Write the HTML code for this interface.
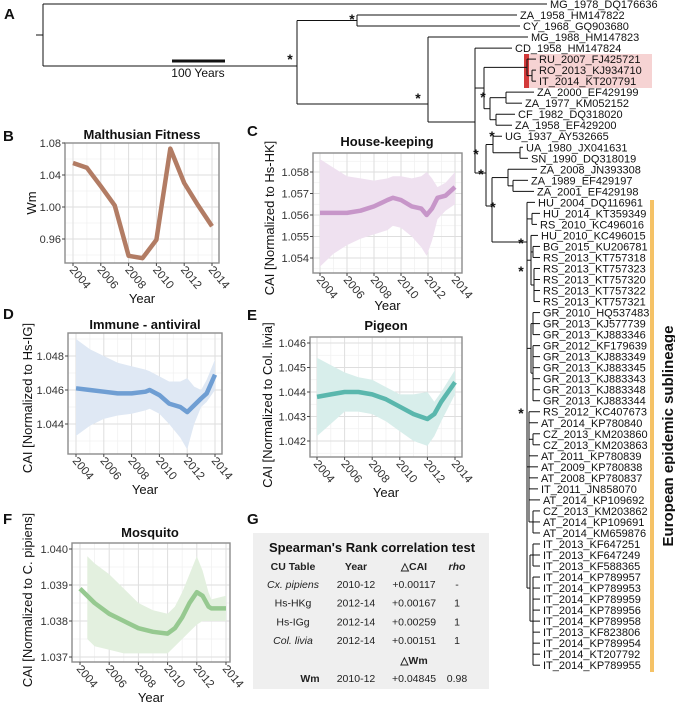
<!DOCTYPE html>
<html><head><meta charset="utf-8">
<style>
html,body{margin:0;padding:0;background:#fff}
svg{display:block;font-family:"Liberation Sans",Arial,sans-serif}
</style></head>
<body>
<svg id="fig" width="675" height="707" viewBox="0 0 675 707" xmlns="http://www.w3.org/2000/svg">
</svg>
<script>
// ---------- DATA ----------
const years = [2004,2005,2006,2007,2008,2009,2010,2011,2012,2013,2014];
const wmValues = [1.055,1.049,1.026,1.002,0.939,0.936,0.959,1.073,1.030,1.002,0.976];
const wmTicks = [0.96,1.00,1.04,1.08];

const hkYears = [2004,2005,2006,2007,2008,2009,2009.4,2010,2010.8,2011.5,2011.9,2012.3,2012.7,2013.3,2014];
const hkFit   = [1.0561,1.0561,1.0561,1.0562,1.0564,1.0567,1.0568,1.0567,1.0564,1.0563,1.0560,1.0563,1.0568,1.0569,1.0573];
const hkUpper = [1.0586,1.0582,1.0578,1.0577,1.0576,1.0577,1.0578,1.0578,1.0577,1.0578,1.0580,1.0577,1.0573,1.0575,1.0580];
const hkLower = [1.0536,1.0542,1.0546,1.0549,1.0551,1.0553,1.0555,1.0554,1.0550,1.0545,1.0541,1.0548,1.0558,1.0562,1.0565];
const hkTicks = [1.054,1.055,1.056,1.057,1.058];

const igYears = [2004,2005,2006,2007,2008,2009,2009.3,2010,2010.7,2011.5,2012,2012.5,2013,2013.4,2014];
const igFit   = [1.0461,1.0460,1.0459,1.0458,1.0458,1.0459,1.0460,1.0457,1.0452,1.0450,1.0447,1.0451,1.0455,1.0458,1.0469];
const igUpper = [1.0490,1.0484,1.0480,1.0476,1.0474,1.0472,1.0471,1.0468,1.0465,1.0465,1.0467,1.0462,1.0460,1.0466,1.0478];
const igLower = [1.0433,1.0439,1.0443,1.0445,1.0446,1.0448,1.0449,1.0446,1.0440,1.0432,1.0425,1.0440,1.0450,1.0453,1.0460];
const igTicks = [1.044,1.046,1.048];

const cliviaYears = [2004,2005,2006,2007,2008,2009,2010,2011,2012,2012.5,2013,2014];
const cliviaFit   = [1.0438,1.0439,1.0440,1.0440,1.0439,1.0437,1.0434,1.0431,1.0429,1.0431,1.0436,1.0444];
const cliviaUpper = [1.0454,1.0451,1.0448,1.0446,1.0445,1.0442,1.0439,1.0439,1.0440,1.0436,1.0440,1.0449];
const cliviaLower = [1.0422,1.0427,1.0432,1.0432,1.0431,1.0428,1.0424,1.0420,1.0418,1.0422,1.0428,1.0439];
const cliviaTicks = [1.042,1.043,1.044,1.045,1.046];

const cxYears = [2004,2005,2006,2007,2008,2009,2010,2010.5,2011,2011.5,2012,2012.4,2012.8,2013,2014];
const cxFit   = [1.0389,1.0385,1.0382,1.0380,1.0378,1.0377,1.03765,1.0378,1.0381,1.0385,1.0388,1.0387,1.0384,1.03835,1.03835];
const cxBandYears = [2004.5,2005,2006,2007,2008,2009,2010,2010.5,2011,2011.5,2012,2012.4,2012.8,2013,2014];
const cxUpper = [1.0398,1.0396,1.0393,1.0389,1.0385,1.0383,1.0382,1.0384,1.0388,1.0393,1.0398,1.0394,1.0388,1.0386,1.0387];
const cxLower = [1.0375,1.0373,1.0372,1.0371,1.0371,1.0371,1.0371,1.0373,1.0375,1.0377,1.0379,1.0380,1.0380,1.0380,1.0380];
const cxTicks = [1.037,1.038,1.039,1.040];

const xTicks = [2004,2006,2008,2010,2012,2014];

const leafNames = ["MG_1978_DQ176636","ZA_1958_HM147822","CY_1968_GQ903680","MG_1988_HM147823","CD_1958_HM147824",
"RU_2007_FJ425721","RO_2013_KJ934710","IT_2014_KT207791","ZA_2000_EF429199","ZA_1977_KM052152","CF_1982_DQ318020",
"ZA_1958_EF429200","UG_1937_AY532665","UA_1980_JX041631","SN_1990_DQ318019","ZA_2008_JN393308","ZA_1989_EF429197",
"ZA_2001_EF429198","HU_2004_DQ116961","HU_2014_KT359349","RS_2010_KC496016","HU_2010_KC496015","BG_2015_KU206781",
"RS_2013_KT757318","RS_2013_KT757323","RS_2013_KT757320","RS_2013_KT757322","RS_2013_KT757321","GR_2010_HQ537483",
"GR_2013_KJ577739","GR_2013_KJ883346","GR_2012_KF179639","GR_2013_KJ883349","GR_2013_KJ883345","GR_2013_KJ883343",
"GR_2013_KJ883348","GR_2013_KJ883344","RS_2012_KC407673","AT_2014_KP780840","CZ_2013_KM203860","CZ_2013_KM203863",
"AT_2011_KP780839","AT_2009_KP780838","AT_2008_KP780837","IT_2011_JN858070","AT_2014_KP109692","CZ_2013_KM203862",
"AT_2014_KP109691","AT_2014_KM659876","IT_2013_KF647251","IT_2013_KF647249","IT_2013_KF588365","IT_2014_KP789957",
"IT_2014_KP789953","IT_2014_KP789959","IT_2014_KP789956","IT_2014_KP789958","IT_2013_KF823806","IT_2014_KP789954",
"IT_2014_KT207792","IT_2014_KP789955"];
const leafLabelX = [550,520,523,531,515,539,539,539,537,525,518,515,505,526,531,540,531,537,538,543,540,541,543,
543,543,543,543,543,543,543,543,543,543,543,543,543,543,543,541,543,543,541,541,541,541,543,543,543,543,
543,543,543,543,543,543,543,543,543,543,543,543];

// ---------- HELPERS ----------
const NS = "http://www.w3.org/2000/svg";
const svg = document.getElementById('fig');
function mk(tag, attrs, parent){
  const e = document.createElementNS(NS, tag);
  for (const k in attrs) e.setAttribute(k, attrs[k]);
  (parent||svg).appendChild(e);
  return e;
}
function txt(str, attrs, parent){
  const e = mk('text', attrs, parent);
  e.textContent = str;
  return e;
}

// ---------- PANEL LETTERS ----------
[["A",4,19],["B",3,141],["C",247,136],["D",3,319],["E",247,320],["F",3,524],["G",247,524]].forEach(p=>{
  const t = txt(p[0], {x:p[1], y:p[2], 'font-size':15, 'font-weight':'bold', fill:'#111'});
  
  
});

// ---------- CHART PANELS ----------
function panel(cfg){
  const g = mk('g', {});
  
  
  const X = v => cfg.px0 + (v - 2004) * (cfg.px1 - cfg.px0) / 10;
  const Y = v => cfg.pyA + (v - cfg.vA) * (cfg.pyB - cfg.pyA) / (cfg.vB - cfg.vA);
  const L=cfg.left, R=cfg.right, T=cfg.top, B=cfg.bottom;
  const clipId = 'clip-' + cfg.name;
  const cp = mk('clipPath', {id: clipId}, g);
  mk('rect', {x:L, y:T, width:R-L, height:B-T}, cp);
  for (let yr=2005; yr<=2013; yr+=2) mk('line',{x1:X(yr),x2:X(yr),y1:T,y2:B,stroke:'#f1f1f1','stroke-width':0.8},g);
  for (let i=0;i<cfg.ticks.length-1;i++){
    const m=(cfg.ticks[i]+cfg.ticks[i+1])/2;
    mk('line',{x1:L,x2:R,y1:Y(m),y2:Y(m),stroke:'#f1f1f1','stroke-width':0.8},g);
  }
  const mLo = cfg.ticks[0]-(cfg.ticks[1]-cfg.ticks[0])/2, mHi = cfg.ticks[cfg.ticks.length-1]+(cfg.ticks[1]-cfg.ticks[0])/2;
  [mLo,mHi].forEach(m=>{ if(Y(m)>T&&Y(m)<B) mk('line',{x1:L,x2:R,y1:Y(m),y2:Y(m),stroke:'#f1f1f1','stroke-width':0.8},g);});
  xTicks.forEach(yr=>mk('line',{x1:X(yr),x2:X(yr),y1:T,y2:B,stroke:'#dedede','stroke-width':1},g));
  cfg.ticks.forEach(v=>mk('line',{x1:L,x2:R,y1:Y(v),y2:Y(v),stroke:'#dedede','stroke-width':1},g));
  if (cfg.upper){
    const by = cfg.bandYears || cfg.xs;
    let d = '';
    by.forEach((yr,i)=>{ d += (i?'L':'M') + X(yr).toFixed(1) + ',' + Y(cfg.upper[i]).toFixed(1); });
    for (let i=by.length-1;i>=0;i--) d += 'L' + X(by[i]).toFixed(1) + ',' + Y(cfg.lower[i]).toFixed(1);
    const band = mk('path',{d:d+'Z', fill:cfg.band, stroke:'none','clip-path':'url(#'+clipId+')'},g);
    
    
  }
  const pts = cfg.xs.map((yr,i)=>X(yr).toFixed(1)+','+Y(cfg.ys[i]).toFixed(1)).join(' ');
  const line = mk('polyline',{points:pts, fill:'none', stroke:cfg.color,'stroke-width':4.5,'stroke-linejoin':'round','stroke-linecap':'butt','clip-path':'url(#'+clipId+')'},g);
  
  
  mk('rect',{x:L,y:T,width:R-L,height:B-T,fill:'none',stroke:'#8c8c8c','stroke-width':1.4},g);
  cfg.ticks.forEach(v=>{
    mk('line',{x1:L-3,x2:L,y1:Y(v),y2:Y(v),stroke:'#444','stroke-width':1},g);
    const t = txt(v.toFixed(cfg.dec),{x:L-4,y:Y(v)+4,'font-size':11,'text-anchor':'end',fill:'#333'},g);
    
    
  });
  xTicks.forEach(yr=>{
    mk('line',{x1:X(yr),x2:X(yr),y1:B,y2:B+3,stroke:'#444','stroke-width':1},g);
    const tx = X(yr)-4, ty = B+7;
    const t = txt(String(yr),{x:tx,y:ty,'font-size':11.5,fill:'#333',transform:'rotate(50 '+tx+' '+ty+')'},g);
    
    
  });
  const tt = txt(cfg.title,{x:cfg.titleX,y:cfg.titleY,'font-size':13,'font-weight':'bold','text-anchor':'middle',fill:'#111'},g);
  
  
  const xt = txt('Year',{x:(L+R)/2,y:cfg.xTitleY,'font-size':13,'text-anchor':'middle',fill:'#111'},g);
  
  
  const yt = txt(cfg.ytitle,{x:cfg.yTitleX,y:cfg.yTitleY,'font-size':13,'text-anchor':'middle',fill:'#111',transform:'rotate(-90 '+cfg.yTitleX+' '+cfg.yTitleY+')'},g);
  
  
}

panel({name:'malthusian-fitness-chart',left:65,right:219,top:143,bottom:263,px0:73,px1:212,vA:1.08,pyA:143,vB:0.96,pyB:239,
  ticks:wmTicks,dec:2,xs:years,ys:wmValues,color:'#b27c64',title:'Malthusian Fitness',titleX:142,titleY:139,
  xTitleY:303,ytitle:'Wm',yTitleX:36,yTitleY:203});
panel({name:'house-keeping-chart',left:313,right:462,top:153,bottom:273,px0:320,px1:455,vA:1.058,pyA:172,vB:1.054,pyB:258,
  ticks:hkTicks,dec:3,xs:hkYears,ys:hkFit,upper:hkUpper,lower:hkLower,color:'#c796c9',band:'#efe1f0',title:'House-keeping',titleX:387,titleY:146,
  xTitleY:310,ytitle:'CAI [Normalized to Hs-HK]',yTitleX:274,yTitleY:218});
panel({name:'immune-antiviral-chart',left:68,right:222,top:333,bottom:454,px0:76,px1:215,vA:1.048,pyA:356,vB:1.044,pyB:424,
  ticks:igTicks,dec:3,xs:igYears,ys:igFit,upper:igUpper,lower:igLower,color:'#6f9ed3',band:'#dfe8f4',title:'Immune - antiviral',titleX:145,titleY:329,
  xTitleY:494,ytitle:'CAI [Normalized to Hs-IG]',yTitleX:32,yTitleY:398});
panel({name:'pigeon-chart',left:310,right:462,top:337,bottom:457,px0:317,px1:455,vA:1.046,pyA:343,vB:1.042,pyB:441,
  ticks:cliviaTicks,dec:3,xs:cliviaYears,ys:cliviaFit,upper:cliviaUpper,lower:cliviaLower,color:'#5ab7ad',band:'#d8eeeb',title:'Pigeon',titleX:386,titleY:330,
  xTitleY:497,ytitle:'CAI [Normalized to Col. livia]',yTitleX:272,yTitleY:405});
panel({name:'mosquito-chart',left:72,right:230,top:543,bottom:662,px0:80,px1:226,vA:1.040,pyA:549,vB:1.037,pyB:657,
  ticks:cxTicks,dec:3,xs:cxYears,ys:cxFit,bandYears:cxBandYears,upper:cxUpper,lower:cxLower,color:'#96c990',band:'#e3f0df',title:'Mosquito',titleX:150,titleY:537,
  xTitleY:702,ytitle:'CAI [Normalized to C. pipiens]',yTitleX:32,yTitleY:600});

// ---------- TABLE G ----------
(function(){
  const g = mk('g',{});
  
  
  mk('rect',{x:253,y:533,width:236,height:156,fill:'#efefef'},g);
  txt("Spearman's Rank correlation test",{x:372,y:552,'font-size':13,'font-weight':'bold','text-anchor':'middle',fill:'#111'},g);
  const hx=[293,356,414,457];
  ["CU Table","Year","\u25B3CAI","rho"].forEach((h,i)=>{
    const a={x:hx[i],y:570,'font-size':10.5,'font-weight':'bold','text-anchor':'middle',fill:'#222'};
    if(i===3) a['font-style']='italic';
    txt(h,a,g);
  });
  const rows=[["Cx. pipiens","2010-12","+0.00117","-",true],["Hs-HKg","2012-14","+0.00167","1",false],
              ["Hs-IGg","2012-14","+0.00259","1",false],["Col. livia","2012-14","+0.00151","1",true]];
  rows.forEach((r,i)=>{
    const y=588+i*18.7;
    const a={x:293,y:y,'font-size':10.5,'text-anchor':'middle',fill:'#222'};
    if(r[4]) a['font-style']='italic';
    txt(r[0],a,g);
    txt(r[1],{x:356,y:y,'font-size':10.5,'text-anchor':'middle',fill:'#222'},g);
    txt(r[2],{x:414,y:y,'font-size':10.5,'text-anchor':'middle',fill:'#222'},g);
    txt(r[3],{x:457,y:y,'font-size':10.5,'text-anchor':'middle',fill:'#222'},g);
  });
  txt("\u25B3Wm",{x:414,y:664,'font-size':10.5,'font-weight':'bold','text-anchor':'middle',fill:'#222'},g);
  txt("Wm",{x:310,y:682,'font-size':10.5,'font-weight':'bold','text-anchor':'middle',fill:'#222'},g);
  txt("2010-12",{x:356,y:682,'font-size':10.5,'text-anchor':'middle',fill:'#222'},g);
  txt("+0.04845",{x:414,y:682,'font-size':10.5,'text-anchor':'middle',fill:'#222'},g);
  txt("0.98",{x:457,y:682,'font-size':10.5,'text-anchor':'middle',fill:'#222'},g);
})();

// ---------- TREE ----------
const leafY = i => 4 + 11.02*i;
function L(i){ return {leaf:i}; }
function N(x, kids, y){ return {x:x, kids:kids, y:y}; }
const range = (a,b,x) => { const r=[]; for(let i=a;i<=b;i++) r.push(L(i)); return r; };
const tree = N(43,[L(0),
  N(297,[ N(357,[L(1),L(2)]),
    N(428,[L(3),
      N(475,[L(4),
        N(484,[ N(527,[L(5),N(532,[L(6),L(7)])]),
                N(490,[N(506,[L(8),L(9)]),N(496,[L(10),L(11)])]) ]),
        N(486,[ N(493,[L(12),N(520,[L(13),L(14)])]),
          N(492,[ N(508,[L(15),N(513,[L(16),L(17)])]),
            N(527,[L(18),N(532,[L(19),L(20)]),
              N(531,[L(21),N(533,[L(22),L(23)]),N(534,range(24,27))]),
              N(531,[N(533,[L(28),L(29),L(30)]),N(533,range(31,36))]),
              N(529,[L(37),L(38),N(533,[L(39),L(40)]),L(41),L(42),L(43),L(44),L(45),N(533,[L(46),L(47),L(48)])]),
              N(530,[N(533,range(49,51)),N(533,range(52,60))])
            ],242)
          ],206)
        ],173)
      ],122)
    ],104)
  ],66)
],35);
const treeG = mk('g',{});


const hl = mk('rect',{x:525,y:54,width:127,height:34,fill:'#f6d3d3'},treeG);


mk('rect',{x:524,y:54,width:5,height:34,fill:'#d33a3a'},treeG);
function layout(n){
  if (n.leaf!==undefined){ n.y = leafY(n.leaf); n.x = leafLabelX[n.leaf]-3; return; }
  n.kids.forEach(layout);
  if (n.y===undefined) n.y = (n.kids[0].y + n.kids[n.kids.length-1].y)/2;
}
layout(tree);
function draw(n){
  if (n.leaf!==undefined) return;
  const ys = n.kids.map(k=>k.y).concat([n.y]);
  mk('line',{x1:n.x,x2:n.x,y1:Math.min(...ys),y2:Math.max(...ys),stroke:'#111','stroke-width':1},treeG);
  n.kids.forEach(k=>{
    mk('line',{x1:n.x,x2:k.x,y1:k.y,y2:k.y,stroke:'#111','stroke-width':1},treeG);
    draw(k);
  });
}
mk('line',{x1:36,x2:43,y1:tree.y,y2:tree.y,stroke:'#111','stroke-width':1},treeG);
draw(tree);
leafNames.forEach((nm,i)=>{
  const t = txt(nm,{x:leafLabelX[i],y:leafY(i)+4,'font-size':11,fill:'#111'},treeG);
  
  
});
[[352,24],[290,64],[418,103],[476,159],[483,102],[492,141],[481,179],[493,212],[521,248],[521,276],[521,418]].forEach(s=>{
  const t = txt('*',{x:s[0],y:s[1],'font-size':14,'font-weight':'bold','text-anchor':'middle',fill:'#111'},treeG);
  
  
});
const sb = mk('line',{x1:172,x2:225,y1:61,y2:61,stroke:'#111','stroke-width':3},treeG);


const sbt = txt('100 Years',{x:198,y:77,'font-size':12,'text-anchor':'middle',fill:'#111'},treeG);


const eb = mk('rect',{x:650,y:200,width:4,height:472,fill:'#f5c266'},treeG);


const et = txt('European epidemic sublineage',{x:673,y:436,'font-size':15,'font-weight':'bold','text-anchor':'middle',fill:'#111',transform:'rotate(-90 673 436)'},treeG);


</script>
</body></html>
